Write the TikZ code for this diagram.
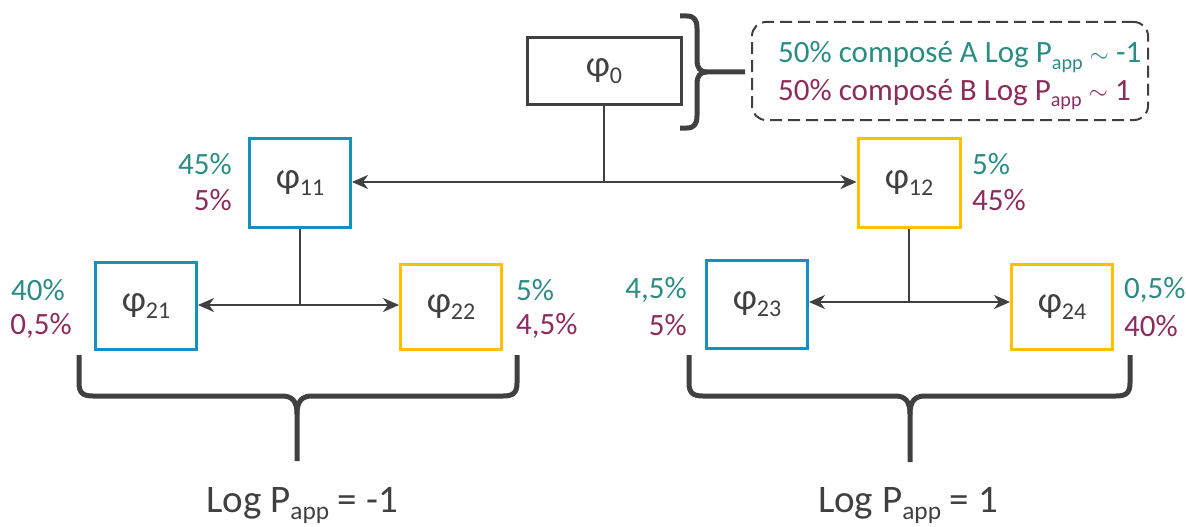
\documentclass[tikz,border=0pt]{standalone}
\usepackage{fontspec}
\setmainfont{Carlito}
\usetikzlibrary{arrows.meta}
\definecolor{dgray}{RGB}{64,64,64}
\definecolor{tealc}{RGB}{43,140,131}
\definecolor{purp}{RGB}{140,44,92}
\definecolor{blueb}{RGB}{20,145,195}
\definecolor{yelb}{RGB}{255,192,0}
\newcommand{\ph}[1]{φ\raisebox{-0.2em}{\fontsize{24}{24}\selectfont #1}}
\newcommand{\papp}{P\raisebox{-0.2em}{\fontsize{0.65em}{0.65em}\selectfont app}}
\newcommand{\tld}{\raisebox{0.02em}{$\sim$}}
\begin{document}
\begin{tikzpicture}[x=1pt,y=-1pt,
  box/.style={draw, line width=3pt, inner sep=0pt, text=dgray, font=\fontsize{37}{40}\selectfont},
  lab/.style={inner sep=0pt, font=\fontsize{31}{34}\selectfont},
  conn/.style={draw=dgray, line width=2pt},
  arr/.style={conn, {Stealth[length=16pt,width=14pt,inset=5pt]}-{Stealth[length=16pt,width=14pt,inset=5pt]}},
  bracec/.style={draw=dgray, line width=5pt, line join=round, line cap=butt}]
\useasboundingbox (0,0) rectangle (1186,527);

% boxes
\node[box, draw=dgray, minimum width=154, minimum height=66] (p0) at (604,71) {\ph{0}};
\node[box, draw=blueb, minimum width=101, minimum height=89] (p11) at (300,183) {\ph{11}};
\node[box, draw=yelb, minimum width=102, minimum height=89] (p12) at (909,183) {\ph{12}};
\node[box, draw=blueb, minimum width=101, minimum height=87] (p21) at (146,306) {\ph{21}};
\node[box, draw=yelb, minimum width=101, minimum height=85] (p22) at (451,307) {\ph{22}};
\node[box, draw=blueb, minimum width=101, minimum height=88] (p23) at (757,304) {\ph{23}};
\node[box, draw=yelb, minimum width=101, minimum height=85] (p24) at (1062,307) {\ph{24}};

% connectors
\coordinate (j1) at (604,182);
\coordinate (j2) at (300,305);
\coordinate (j3) at (909,302);
\draw[conn] (p0.south) -- (j1);
\draw[arr] (j1 -| p11.east) -- (j1 -| p12.west);
\draw[conn] (p11.south) -- (j2);
\draw[arr] (j2 -| p21.east) -- (j2 -| p22.west);
\draw[conn] (p12.south) -- (j3);
\draw[arr] (j3 -| p23.east) -- (j3 -| p24.west);

% percentage labels
\node[lab, tealc, anchor=east] (a11) at (232,164) {45\%};
\node[lab, purp, anchor=east] (b11) at (232,200) {5\%};
\node[lab, tealc, anchor=west] (a12) at (972,164) {5\%};
\node[lab, purp, anchor=west] (b12) at (972,200) {45\%};
\node[lab, tealc, anchor=east] (a21) at (65,290) {40\%};
\node[lab, purp, anchor=east] (b21) at (72,326) {0,5\%};
\node[lab, tealc, anchor=west] (a22) at (516,290) {5\%};
\node[lab, purp, anchor=west] (b22) at (516,326) {4,5\%};
\node[lab, tealc, anchor=east] (a23) at (687,290) {4,5\%};
\node[lab, purp, anchor=east] (b23) at (687,325) {5\%};
\node[lab, tealc, anchor=west] (a24) at (1124,290) {0,5\%};
\node[lab, purp, anchor=west] (b24) at (1124,326) {40\%};

% dashed info box
\node[draw=dgray, dashed, dash pattern=on 12pt off 6pt, line width=2pt, rounded corners=14pt,
  minimum width=396, minimum height=98] (info) at (950,71) {};
\node[lab, tealc, anchor=base west] (t1) at (778,63) {50\% composé A Log \papp{} \tld{} -1};
\node[lab, purp, anchor=base west] (t2) at (778,100) {50\% composé B Log \papp{} \tld{} 1};

% brace next to phi0
\draw[bracec] (680,16) -- (687,16) .. controls (694,16) and (697,20) .. (697,28) -- (697,60)
  .. controls (697,68) and (700,72) .. (707,72) -- (745,72);
\draw[bracec] (680,128) -- (687,128) .. controls (694,128) and (697,124) .. (697,116) -- (697,84)
  .. controls (697,76) and (700,72) .. (707,72);

% bottom braces
\draw[bracec] (79,355) -- (79,383) .. controls (79,393) and (83,396) .. (93,396) -- (282,396)
  .. controls (292,396) and (297,401) .. (297,414) -- (297,461);
\draw[bracec] (517,355) -- (517,383) .. controls (517,393) and (513,396) .. (503,396) -- (312,396)
  .. controls (302,396) and (297,401) .. (297,414);
\draw[bracec] (689,355) -- (689,383) .. controls (689,393) and (693,396) .. (703,396) -- (895,396)
  .. controls (905,396) and (910,401) .. (910,414) -- (910,462);
\draw[bracec] (1130,355) -- (1130,383) .. controls (1130,393) and (1126,396) .. (1116,396) -- (925,396)
  .. controls (915,396) and (910,401) .. (910,414);

% bottom texts
\node[inner sep=0pt, anchor=base, text=dgray, font=\fontsize{39}{42}\selectfont] (L1) at (302,512) {Log \papp{} = -1};
\node[inner sep=0pt, anchor=base, text=dgray, font=\fontsize{39}{42}\selectfont] (L2) at (908,512) {Log \papp{} = 1};
\end{tikzpicture}
\end{document}
